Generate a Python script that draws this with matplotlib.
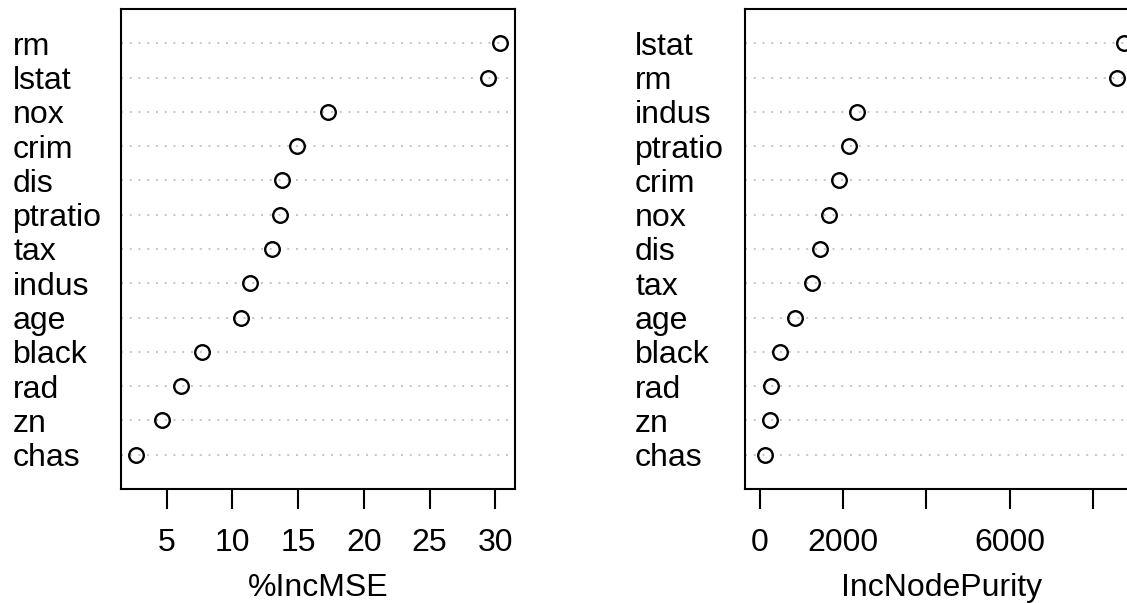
import matplotlib
matplotlib.use('Agg')
import matplotlib.pyplot as plt
import matplotlib.transforms as mtransforms

plt.rcParams['font.family'] = ['Liberation Sans', 'DejaVu Sans']

# importance values, listed top row first
mseVars = ['rm', 'lstat', 'nox', 'crim', 'dis', 'ptratio', 'tax',
           'indus', 'age', 'black', 'rad', 'zn', 'chas']
mseVals = [30.39, 29.44, 17.29, 14.95, 13.81, 13.66, 13.02,
           11.32, 10.69, 7.67, 6.07, 4.67, 2.64]

purityVars = ['lstat', 'rm', 'indus', 'ptratio', 'crim', 'nox', 'dis',
              'tax', 'age', 'black', 'rad', 'zn', 'chas']
purityVals = [8744, 8561, 2327, 2150, 1901, 1653, 1452,
              1259, 842, 489, 281, 241, 137]

mseTicks = [5, 10, 15, 20, 25, 30]
mseTickLabels = ['5', '10', '15', '20', '25', '30']
purityTicks = [0, 2000, 4000, 6000, 8000]
purityTickLabels = ['0', '2000', '', '6000', '']

W, H = 1127, 603
fig = plt.figure(figsize=(W / 100, H / 100), dpi=100)
fig.patch.set_facecolor('white')

FS = 23


def dotPanel(rect, names, vals, xmin, ticks, tickLabels, xlab, labelX):
    ax = fig.add_axes(rect)
    n = len(vals)
    ys = list(range(n, 0, -1))
    for y in ys:
        ax.axhline(y, color='#C4C4C4', lw=1.4, linestyle=(0, (1, 3.5)), zorder=1)
    ax.plot(vals, ys, 'o', mfc='none', mec='black', ms=10.5, mew=1.7,
            linestyle='none', zorder=3, clip_on=False)
    lo = xmin
    hi = max(vals)
    pad = (hi - lo) * 0.04
    ax.set_xlim(lo - pad, hi + pad)
    ax.set_ylim(0, n + 1)
    ax.set_yticks([])
    ax.set_xticks(ticks)
    ax.set_xticklabels(tickLabels, fontsize=FS)
    ax.tick_params(axis='x', length=14.4, width=1.5, pad=14, direction='out')
    for s in ax.spines.values():
        s.set_linewidth(1.5)
    ax.set_xlabel(xlab, fontsize=FS, va='baseline')
    ax.xaxis.set_label_coords(0.5, -0.223)
    trans = mtransforms.blended_transform_factory(fig.transFigure, ax.transData)
    for name, y in zip(names, ys):
        ax.text(labelX / W, y, name, transform=trans, ha='left',
                va='center_baseline', fontsize=FS)
    return ax


axH = 480 / H
axB = (H - 489) / H
dotPanel([121 / W, axB, 394 / W, axH], mseVars, mseVals, min(mseVals),
         mseTicks, mseTickLabels, '%IncMSE', 13)
dotPanel([745 / W, axB, 394 / W, axH], purityVars, purityVals, 0,
         purityTicks, purityTickLabels, 'IncNodePurity', 635)

plt.savefig('out.png', dpi=100)
